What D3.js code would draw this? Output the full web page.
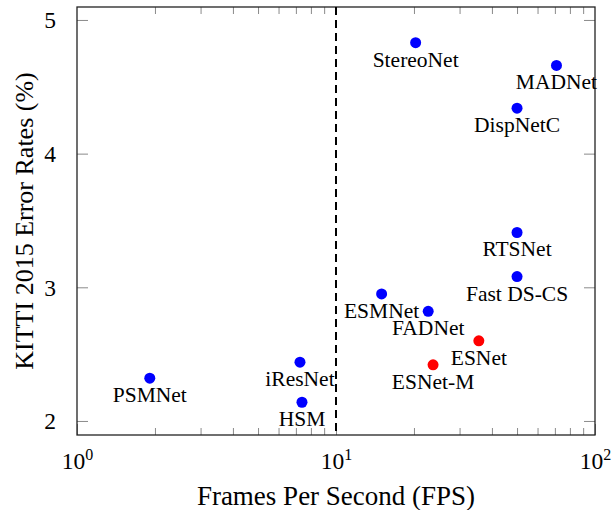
<!DOCTYPE html>
<html>
<head>
<meta charset="utf-8">
<script src="https://cdn.jsdelivr.net/npm/d3@7"></script>
<style>
  body { margin: 0; background: #fff; }
  svg text { font-family: "Liberation Serif", "Times New Roman", serif; fill: #000; }
  .axis path { stroke: #222; stroke-width: 1.3px; }
  .axis line { stroke: #8a8a8a; stroke-width: 1px; }
</style>
</head>
<body>
<svg id="chart" width="613" height="510"></svg>
<script>
// Networks, speed (FPS) and KITTI 2015 error rates (%)
const names = ['StereoNet', 'MADNet', 'DispNetC', 'RTSNet', 'Fast DS-CS', 'ESMNet',
               'FADNet', 'ESNet', 'ESNet-M', 'iResNet', 'HSM', 'PSMNet'];
const fps = [20.3, 71, 50, 50, 50, 15, 22.7, 35.6, 23.7, 7.26, 7.39, 1.91];
const errRates = [4.83, 4.66, 4.34, 3.41, 3.08, 2.95, 2.82, 2.60, 2.42, 2.44, 2.14, 2.32];
const isOurs = [false, false, false, false, false, false, false, true, true, false, false, false];

const xMajor = [1, 10, 100];
const xMinor = [2, 3, 4, 5, 6, 7, 8, 9, 20, 30, 40, 50, 60, 70, 80, 90];
const yTicks = [2, 3, 4, 5];
const fpsThreshold = 10;

const margin = {top: 7, right: 18, bottom: 75, left: 77},
      W = 613, H = 510,
      width = W - margin.left - margin.right,
      height = H - margin.top - margin.bottom;

const svg = d3.select('#chart');
const g = svg.append('g').attr('transform', 'translate(' + margin.left + ',' + margin.top + ')');

const x = d3.scaleLog().domain([1, 100]).range([0, width]);
const y = d3.scaleLinear().domain([1.895, 5.097]).range([height, 0]);

// minor ticks, bottom + top
g.append('g').attr('class', 'axis').attr('transform', 'translate(0,' + height + ')')
  .call(d3.axisBottom(x).tickValues(xMinor).tickSize(-7).tickFormat(''))
  .select('.domain').remove();
g.append('g').attr('class', 'axis')
  .call(d3.axisTop(x).tickValues(xMinor).tickSize(-7).tickFormat(''))
  .select('.domain').remove();

// major x ticks with 10^n labels
const xAx = g.append('g').attr('class', 'axis').attr('transform', 'translate(0,' + height + ')')
  .call(d3.axisBottom(x).tickValues(xMajor).tickSize(-11).tickFormat(''));
xAx.select('.domain').remove();
xAx.selectAll('.tick text').remove();
xAx.selectAll('.tick').append('text')
  .attr('y', 34)
  .attr('text-anchor', 'middle')
  .style('font-size', '23.5px')
  .each(function(d) {
    const t = d3.select(this);
    t.append('tspan').text('10');
    t.append('tspan').attr('dy', -9).style('font-size', '16px').text(Math.round(Math.log10(d)));
  });

// y ticks left + right
const yAx = g.append('g').attr('class', 'axis')
  .call(d3.axisLeft(y).tickValues(yTicks).tickSize(-11).tickPadding(21).tickFormat(d3.format('d')));
yAx.select('.domain').remove();
yAx.selectAll('.tick text').style('font-size', '23.5px').attr('dy', '0.34em');
g.append('g').attr('class', 'axis').attr('transform', 'translate(' + width + ',0)')
  .call(d3.axisRight(y).tickValues(yTicks).tickSize(-11).tickFormat(''))
  .select('.domain').remove();

// frame
g.append('rect')
  .attr('width', width).attr('height', height)
  .attr('fill', 'none').attr('stroke', '#222').attr('stroke-width', 1.3);

// 10 FPS line
g.append('line')
  .attr('x1', x(fpsThreshold)).attr('x2', x(fpsThreshold))
  .attr('y1', 0).attr('y2', height)
  .attr('stroke', '#000').attr('stroke-width', 2)
  .attr('stroke-dasharray', '8,5');

// points
const pts = g.selectAll('g.pt')
  .data(names.map((n, i) => ({name: n, fps: fps[i], err: errRates[i], ours: isOurs[i]})))
  .enter().append('g').attr('class', 'pt')
  .attr('transform', d => 'translate(' + x(d.fps) + ',' + y(d.err) + ')');

pts.append('circle')
  .attr('r', 5.5)
  .attr('fill', d => d.ours ? '#ff0000' : '#0000ff');

pts.append('text')
  .attr('y', 24)
  .attr('text-anchor', 'middle')
  .style('font-size', '21.5px')
  .text(d => d.name);

// axis labels
svg.append('text')
  .attr('x', margin.left + width / 2).attr('y', 505)
  .attr('text-anchor', 'middle')
  .style('font-size', '27px')
  .text('Frames Per Second (FPS)');

svg.append('text')
  .attr('transform', 'translate(33,' + (margin.top + height / 2) + ') rotate(-90)')
  .attr('text-anchor', 'middle')
  .style('font-size', '26px')
  .text('KITTI 2015 Error Rates (%)');
</script>
</body>
</html>
